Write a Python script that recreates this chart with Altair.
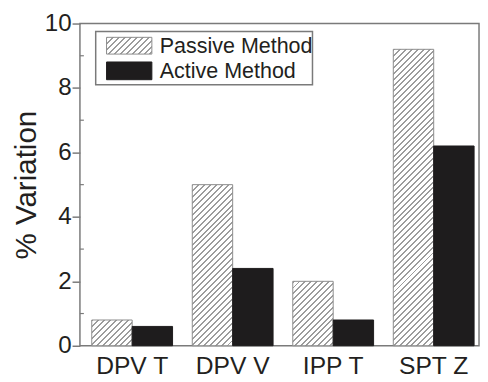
import altair as alt
import pandas as pd

# ---- data ----
categories = ["DPV T", "DPV V", "IPP T", "SPT Z"]
series = ["Passive Method", "Active Method"]
passive = [0.8, 5.0, 2.0, 9.2]
active = [0.6, 2.4, 0.8, 6.2]
y_ticks = [0, 2, 4, 6, 8, 10]
minor_ticks = [1, 3, 5, 7, 9]

# ---- layout / style ----
W, H = 405, 327
YMAX = 10
P_IN = 20 / 102
P_OUT = 17 / 204
ALIGN = 0.706
STEP = W / (len(categories) - P_IN + 2 * P_OUT)
BAR_W = STEP * (1 - P_IN) / 2
FONT = "Liberation Sans"
TXT = "#231f20"
FRAME = "#7a7a7a"
HATCH = "#9c9c9c"
BLACK = "#1e1c1d"


def hatch(w, h, period=6.0, line=2.0, color=HATCH):
    """Diagonal '/' hatch as a hard-stop linear gradient in bbox units."""
    total = w + h
    c = total / (w * w + h * h)
    stops = []
    pos = 0.0
    while pos < total:
        a = pos / total
        b = min((pos + line) / total, 1.0)
        e = min((pos + period) / total, 1.0)
        stops += [
            {"offset": a, "color": color},
            {"offset": b, "color": color},
            {"offset": b, "color": "#ffffff"},
            {"offset": e, "color": "#ffffff"},
        ]
        pos += period
    return {"gradient": "linear", "x1": 0, "y1": 0, "x2": c * w, "y2": c * h, "stops": stops}


df_p = pd.DataFrame({"category": categories, "series": series[0], "value": passive})
df_a = pd.DataFrame({"category": categories, "series": series[1], "value": active})
df_minor = pd.DataFrame({"value": minor_ticks})
df_series = pd.DataFrame({"series": series})

x_enc = alt.X(
    "category:N",
    sort=categories,
    scale=alt.Scale(domain=categories, paddingInner=P_IN, paddingOuter=P_OUT, align=ALIGN),
    axis=alt.Axis(
        title=None, ticks=False, tickSize=0, domain=False, labelAngle=0,
        labelFontSize=25, labelPadding=8.5, labelFont=FONT, labelColor=TXT,
    ),
)
xo_enc = alt.XOffset("series:N", sort=series, scale=alt.Scale(domain=series, paddingInner=0, paddingOuter=0))
y_enc = alt.Y(
    "value:Q",
    scale=alt.Scale(domain=[0, YMAX], nice=False),
    axis=alt.Axis(
        values=y_ticks, title="% Variation", grid=False, domain=False,
        tickSize=8, tickColor=FRAME, tickWidth=1.5,
        labelFontSize=24.5, labelPadding=1, labelFont=FONT, labelColor=TXT,
        titleFontSize=30, titleFont=FONT, titleFontWeight="normal", titleColor=TXT,
        titlePadding=3,
    ),
)

layers = []
# passive bars, one layer each so each gets a hatch sized to its own box
for cat, v in zip(categories, passive):
    hpx = v / YMAX * H
    layers.append(
        alt.Chart(df_p)
        .transform_filter(alt.datum.category == cat)
        .mark_bar(fill=hatch(BAR_W, hpx), stroke="#8c8c8c", strokeWidth=1)
        .encode(x=x_enc, xOffset=xo_enc, y=y_enc)
    )
# active bars
layers.append(
    alt.Chart(df_a)
    .mark_bar(fill=BLACK, stroke=BLACK, strokeWidth=1)
    .encode(x=x_enc, xOffset=xo_enc, y=y_enc)
)
# minor ticks (inward)
layers.append(
    alt.Chart(df_minor)
    .mark_rule(color=FRAME, strokeWidth=1.2)
    .encode(y=alt.Y("value:Q"), x=alt.value(0), x2=alt.value(4))
)
# legend box
layers.append(
    alt.Chart(df_series.head(1))
    .mark_rect(fill="#ffffff", stroke=FRAME, strokeWidth=1.5)
    .encode(x=alt.value(16), x2=alt.value(236), y=alt.value(8), y2=alt.value(62))
)
# legend swatches
layers.append(
    alt.Chart(df_series)
    .transform_filter(alt.datum.series == series[0])
    .mark_rect(fill=hatch(46, 17), stroke="#8c8c8c", strokeWidth=1)
    .encode(x=alt.value(27), x2=alt.value(73), y=alt.value(14), y2=alt.value(31))
)
layers.append(
    alt.Chart(df_series)
    .transform_filter(alt.datum.series == series[1])
    .mark_rect(fill=BLACK, stroke=BLACK, strokeWidth=1)
    .encode(x=alt.value(27), x2=alt.value(73), y=alt.value(39), y2=alt.value(57))
)
# legend labels
for s, ypos in zip(series, [22.5, 48]):
    layers.append(
        alt.Chart(df_series)
        .transform_filter(alt.datum.series == s)
        .mark_text(align="left", baseline="middle", fontSize=21.8, font=FONT, color=TXT)
        .encode(x=alt.value(81), y=alt.value(ypos), text="series:N")
    )

chart = (
    alt.layer(*layers)
    .properties(
        width=W,
        height=H,
        autosize=alt.AutoSizeParams(type="none"),
        padding={"left": 73, "top": 13, "right": 1, "bottom": 34},
    )
    .configure_view(stroke=FRAME, strokeWidth=1.5)
)

chart.save("out.html", embed_options={"renderer": "svg", "actions": False})
